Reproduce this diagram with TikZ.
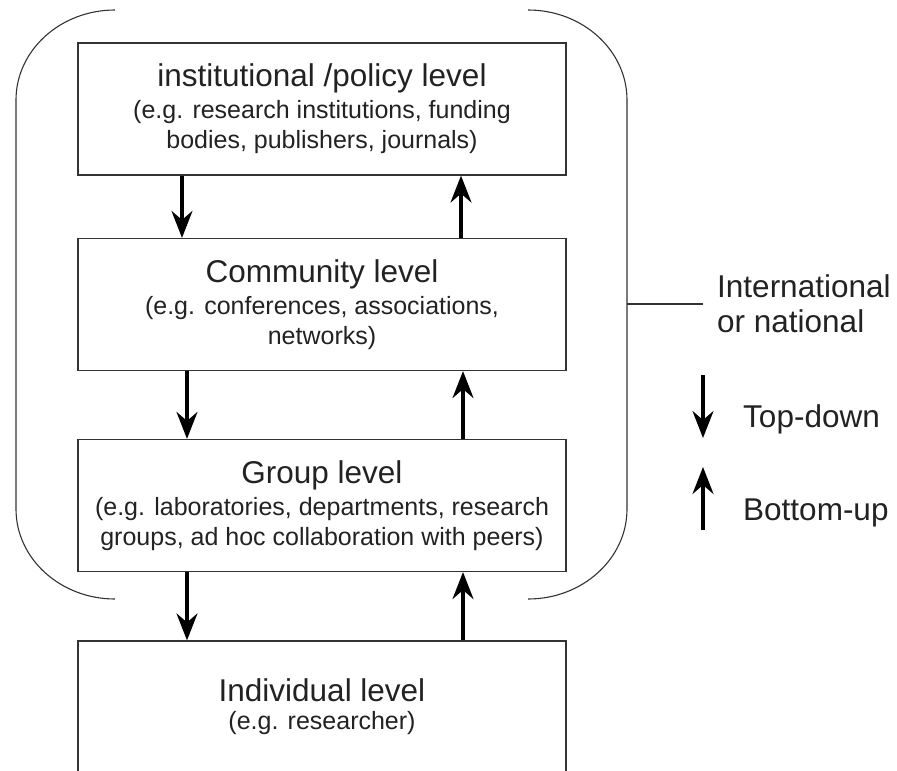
\documentclass[tikz,border=0pt]{standalone}
\usepackage{fontspec}
\setmainfont{Liberation Sans}
\usetikzlibrary{arrows.meta}
\definecolor{ink}{HTML}{222222}
\definecolor{edge}{HTML}{333333}
\begin{document}
\begin{tikzpicture}[x=1pt,y=-1pt,
  lvl/.style={draw=edge, line width=1.2pt, minimum width=488pt, minimum height=132pt,
    inner sep=0pt, align=center, text=ink, font=\fontsize{25}{30}\selectfont},
  arr/.style={line width=3.2pt, -{Stealth[length=27pt,width=21pt,inset=9pt]}},
  brk/.style={draw=edge, line width=1.1pt},
  lab/.style={text=ink, font=\fontsize{31.5}{35}\selectfont, inner sep=0pt}
]
\clip (0,0) rectangle (897,771);

\node[lvl] (inst) at (322,109) {{\fontsize{31.5}{32}\selectfont institutional /policy level}\\[2pt]
  (e.g. research institutions, funding\\ bodies, publishers, journals)};
\node[lvl] (comm) at (322,304.5) {{\fontsize{31.5}{32}\selectfont Community level}\\[2pt]
  (e.g. conferences, associations,\\ networks)};
\node[lvl] (grp) at (322,505.5) {{\fontsize{31.5}{32}\selectfont Group level}\\[2pt]
  (e.g. laboratories, departments, research\\ groups, ad hoc collaboration with peers)};
\node[lvl] (ind) at (322,707) {{\fontsize{31.5}{32}\selectfont Individual level}\\[-2pt]
  (e.g. researcher)};

% top-down / bottom-up arrows
\draw[arr] ([xshift=-140pt]inst.south) -- ([xshift=-140pt]comm.north);
\draw[arr] ([xshift=139pt]comm.north) -- ([xshift=139pt]inst.south);
\draw[arr] ([xshift=-135pt]comm.south) -- ([xshift=-135pt]grp.north);
\draw[arr] ([xshift=141pt]grp.north) -- ([xshift=141pt]comm.south);
\draw[arr] ([xshift=-135pt]grp.south) -- ([xshift=-135pt]ind.north);
\draw[arr] ([xshift=141pt]ind.north) -- ([xshift=141pt]grp.south);

% brackets
\draw[brk] (115,10) .. controls (60.4,10) and (16,50.3) .. (16,100) -- (16,509)
  .. controls (16,558.7) and (60.4,599) .. (115,599);
\draw[brk] (528,10) .. controls (582.6,10) and (627,50.3) .. (627,100) -- (627,509)
  .. controls (627,558.7) and (582.6,599) .. (528,599);

% label for bracket
\coordinate (brR) at (627,304);
\node[lab, align=left, anchor=base west] (intl) at (717,332) {International\\or national};
\draw[brk] (brR) -- ([xshift=-14pt]brR -| intl.west);

% legend
\coordinate (tdA) at (703,375);
\coordinate (tdB) at (703,438);
\draw[arr] (tdA) -- (tdB);
\node[lab, anchor=base west] (td) at (743,427) {Top-down};
\coordinate (buA) at (703,530);
\coordinate (buB) at (703,467);
\draw[arr] (buA) -- (buB);
\node[lab, anchor=base west] (bu) at (743,520) {Bottom-up};
\end{tikzpicture}
\end{document}
